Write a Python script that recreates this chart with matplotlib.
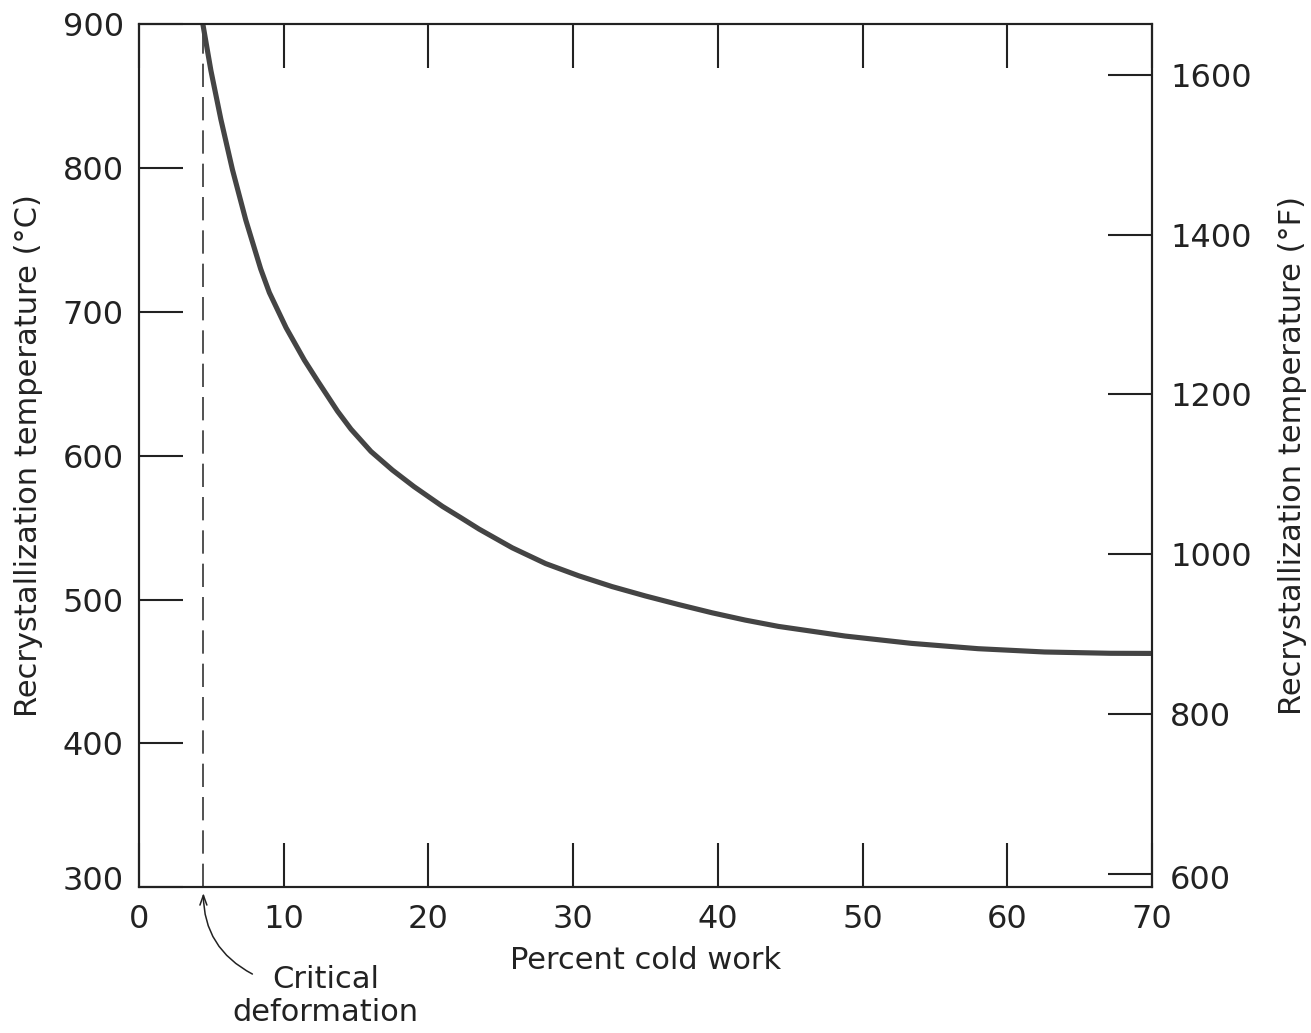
import numpy as np
import matplotlib.pyplot as plt
import matplotlib.transforms as mtransforms

# percent cold work vs recrystallization temperature (deg C)
cold_work = [4.42, 4.97, 5.66, 6.46, 7.38, 8.41, 9.01, 10.17, 11.43, 12.35, 13.72, 14.65,
             16.03, 17.52, 19.01, 20.97, 22.23, 23.50, 25.79, 28.10, 30.39, 32.69,
             34.99, 37.29, 39.59, 41.89, 44.19, 48.79, 53.38, 57.98, 62.58, 67.15, 70.0]
temp_c = [900, 868, 834, 799, 764, 730, 713.5, 689, 666.5, 652, 631, 618.5,
          603, 590, 578.5, 564.8, 557, 549, 536, 525, 516.5, 509,
          502.5, 496.5, 490.8, 485.7, 481.3, 474.6, 469.5, 465.8, 463.5, 462.6, 462.5]
critical = 4.45

x_ticks = [0, 10, 20, 30, 40, 50, 60, 70]
c_ticks = [300, 400, 500, 600, 700, 800, 900]
f_ticks = [600, 800, 1000, 1200, 1400, 1600]
f_lim = (583.2, 1663.2)

ink = '#222222'
plt.rcParams['font.family'] = ['DejaVu Sans']
plt.rcParams['text.color'] = ink

fig = plt.figure(figsize=(13.11, 10.33), dpi=100)
ax = fig.add_axes([0.106, 0.1413, 0.7727, 0.835])

ax.plot(cold_work, temp_c, color='#444444', lw=3.7, solid_capstyle='butt',
        solid_joinstyle='round', zorder=3)
ax.axvline(critical, color='#333333', lw=1.2, ls=(0, (14, 6)), zorder=2)

ax.set_xlim(0, 70)
ax.set_ylim(300, 900)
ax.set_xticks(x_ticks)
ax.set_yticks(c_ticks)
ax.tick_params(axis='both', direction='in', length=31.5, width=1.5, color=ink,
               labelcolor=ink, labelsize=23)
ax.tick_params(axis='x', top=True, pad=12)
ax.tick_params(axis='y', pad=11)
for s in ax.spines.values():
    s.set_color(ink)
    s.set_linewidth(1.5)

ax.set_xlabel('Percent cold work', fontsize=22, color=ink, labelpad=8)
ax.set_ylabel('Recrystallization temperature (°C)', fontsize=22, color=ink, labelpad=14)

# the lowest label sits a little above its tick so it clears the "0"
lbl = ax.yaxis.get_major_ticks()[0].label1
lbl.set_transform(lbl.get_transform() + mtransforms.ScaledTranslation(0, 0.09, fig.dpi_scale_trans))

ax2 = ax.twinx()
ax2.set_ylim(*f_lim)
ax2.set_yticks(f_ticks)
ax2.tick_params(axis='y', direction='in', length=31.5, width=1.5, color=ink,
                labelcolor=ink, labelsize=23, pad=13)
for s in ax2.spines.values():
    s.set_color(ink)
    s.set_linewidth(1.5)
ax2.set_ylabel('Recrystallization temperature (°F)', fontsize=22, color=ink, labelpad=19)
lbl2 = ax2.yaxis.get_major_ticks()[0].label2
lbl2.set_transform(lbl2.get_transform() + mtransforms.ScaledTranslation(0, -0.03, fig.dpi_scale_trans))

# critical deformation note below the axis
tip = (critical, 295.8)
ax.annotate('', xy=tip, xytext=(35.3, -58.3), textcoords='offset points',
            annotation_clip=False,
            arrowprops=dict(arrowstyle='->,head_length=0.7,head_width=0.25',
                            color=ink, lw=1.1, shrinkA=0, shrinkB=0,
                            connectionstyle='arc3,rad=-0.3'))
ax.annotate('Critical\ndeformation', xy=tip, xytext=(87.8, -74.2),
            textcoords='offset points', ha='center', va='center',
            fontsize=22, color=ink, linespacing=1.15, annotation_clip=False)

fig.savefig('out.png', dpi=100)
